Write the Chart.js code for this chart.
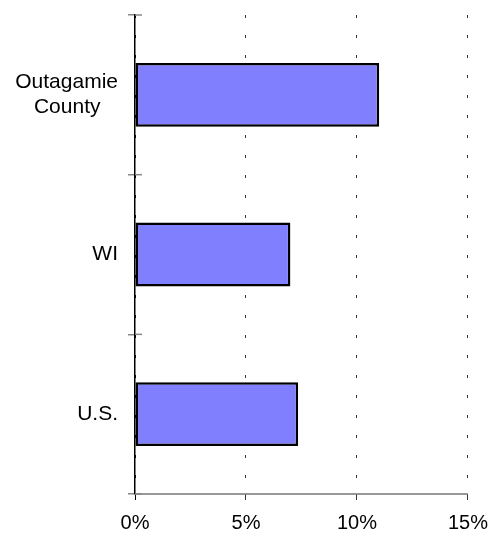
<!DOCTYPE html>
<html>
<head>
<meta charset="utf-8">
<script src="https://cdn.jsdelivr.net/npm/chart.js@4"></script>
<style>
  html, body { margin: 0; padding: 0; background: #fff; }
  #wrap { width: 499px; height: 533px; }
</style>
</head>
<body>
<div id="wrap"><canvas id="shareChart"></canvas></div>
<script>
// Categories (top to bottom) and their share in percent
const regions = [['Outagamie', 'County\u00a0\u00a0\u00a0'], 'WI', 'U.S.'];
const shares = [11.0, 7.0, 7.35];
const axisMax = 15;
const axisStep = 5;

// solid value-axis line plus short stubs on the inner side of the category axis
const axisExtras = {
    id: 'axisExtras',
    afterDraw(chart) {
        const y = chart.scales.y;
        const { left, right, bottom } = chart.chartArea;
        const c = chart.ctx;
        c.save();
        c.strokeStyle = '#777';
        c.lineWidth = 1.5;
        c.beginPath();
        c.moveTo(left, bottom);
        c.lineTo(right, bottom);
        c.stroke();
        c.strokeStyle = '#888';
        for (let i = 0; i <= regions.length; i++) {
            const py = y.getPixelForValue(i - 0.5);
            c.beginPath();
            c.moveTo(left, py);
            c.lineTo(left + 7, py);
            c.stroke();
        }
        c.restore();
    }
};

const ctx = document.getElementById('shareChart').getContext('2d');
new Chart(ctx, {
    type: 'bar',
    data: {
        labels: regions,
        datasets: [{
            data: shares,
            backgroundColor: '#8080ff',
            borderColor: '#000',
            borderWidth: 2.5,
            borderSkipped: false,
            barPercentage: 0.4,
            categoryPercentage: 1
        }]
    },
    options: {
        indexAxis: 'y',
        responsive: true,
        maintainAspectRatio: false,
        animation: false,
        layout: { padding: { top: 15, right: 31, left: 0, bottom: 0 } },
        plugins: {
            legend: { display: false },
            tooltip: { enabled: false }
        },
        scales: {
            x: {
                min: 0,
                max: axisMax,
                afterFit: (s) => { s.height = 39; },
                ticks: {
                    stepSize: axisStep,
                    padding: 11,
                    color: '#000',
                    font: { family: "'Liberation Sans', Arial, sans-serif", size: 20 },
                    callback: (v) => v + '%'
                },
                grid: {
                    color: (c) => c.tick && c.tick.value === 0 ? '#000' : '#333',
                    lineWidth: 1,
                    tickLength: 6,
                    tickBorderDash: []
                },
                border: { display: false, dash: [3, 17] }
            },
            y: {
                afterFit: (s) => {
                    s.width = 135;
                    s.paddingTop = 0;
                    s.paddingBottom = 0;
                },
                ticks: {
                    padding: 10,
                    color: '#000',
                    font: { family: "'Liberation Sans', Arial, sans-serif", size: 21 }
                },
                grid: {
                    drawOnChartArea: false,
                    color: '#888',
                    lineWidth: 1.5,
                    tickLength: 7
                },
                border: { color: '#000', width: 1.5 }
            }
        }
    },
    plugins: [axisExtras]
});
</script>
</body>
</html>
